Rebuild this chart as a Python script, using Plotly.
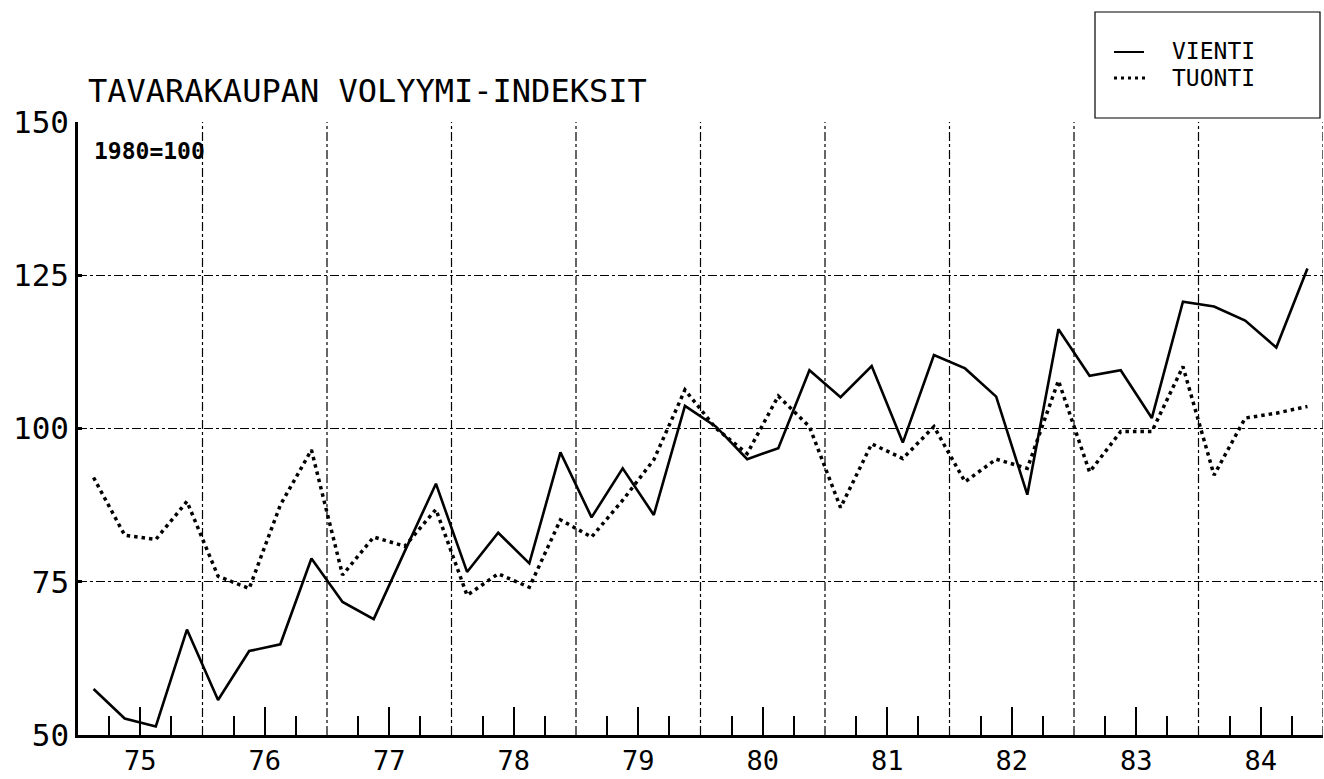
import plotly.graph_objects as go

years = list(range(1975, 1985))
year_labels = ['75', '76', '77', '78', '79', '80', '81', '82', '83', '84']
quarters = [1, 2, 3, 4]

vienti = [57.5, 52.7, 51.4, 67.2, 55.7, 63.7, 64.8, 78.8, 71.7, 68.9,
          80.0, 91.0, 76.6, 83.0, 78.0, 96.1, 85.5, 93.5, 85.9, 103.7,
          100.3, 95.0, 96.8, 109.5, 105.1, 110.2, 97.7, 112.0, 109.8, 105.2,
          89.2, 116.2, 108.6, 109.5, 101.7, 120.7, 119.9, 117.6, 113.2, 126.1]
tuonti = [92.0, 82.6, 81.9, 88.1, 75.9, 73.9, 87.5, 96.5, 76.1, 82.3,
          80.8, 86.8, 72.8, 76.3, 74.1, 85.1, 82.3, 88.3, 94.9, 106.3,
          100.0, 95.9, 105.3, 100.3, 87.1, 97.5, 95.1, 100.3, 91.3, 95.0,
          93.5, 107.8, 92.9, 99.5, 99.5, 110.1, 92.4, 101.7, 102.5, 103.6]

# quarter midpoints on a year axis
x_q = [y + (q - 0.5) / 4 for y in years for q in quarters]

font = 'DejaVu Sans Mono'
W, H = 1324, 779
L, R, T, B = 78, 1, 122, 44


def px(x):
    return (x - L) / (W - L - R)


def py(y):
    return (H - B - y) / (H - T - B)


fig = go.Figure()
fig.add_trace(go.Scatter(
    x=x_q, y=tuonti, mode='lines', name='TUONTI',
    line=dict(color='black', width=3.5, dash='3.5px,4px')
))
fig.add_trace(go.Scatter(
    x=x_q, y=vienti, mode='lines', name='VIENTI',
    line=dict(color='black', width=2.6)
))

# vertical grid at year boundaries + right frame
for y in years[1:] + [1985]:
    fig.add_shape(type='line', xref='x', yref='paper', x0=y, x1=y, y0=0, y1=1,
                  line=dict(color='black', width=1.2, dash='dashdot'))

# legend box
fig.add_shape(type='rect', xref='paper', yref='paper',
              x0=px(1095), x1=px(1320), y0=py(118), y1=py(12),
              line=dict(color='black', width=1.2))
fig.add_shape(type='line', xref='paper', yref='paper',
              x0=px(1114), x1=px(1144), y0=py(52), y1=py(52),
              line=dict(color='black', width=2))
fig.add_shape(type='line', xref='paper', yref='paper',
              x0=px(1114), x1=px(1146), y0=py(78), y1=py(78),
              line=dict(color='black', width=3, dash='3px,4px'))
fig.add_annotation(xref='paper', yref='paper', x=px(1170), y=py(51),
                   text='VIENTI', showarrow=False, xanchor='left', yanchor='middle',
                   font=dict(family=font, size=23, color='black'))
fig.add_annotation(xref='paper', yref='paper', x=px(1170), y=py(78),
                   text='TUONTI', showarrow=False, xanchor='left', yanchor='middle',
                   font=dict(family=font, size=23, color='black'))

fig.add_annotation(xref='paper', yref='paper', x=px(92), y=py(151),
                   text='<b>1980=100</b>', showarrow=False, xanchor='left', yanchor='middle',
                   font=dict(family=font, size=23, color='black'))

fig.update_layout(
    width=W, height=H,
    margin=dict(l=L, r=R, t=T, b=B, autoexpand=False),
    plot_bgcolor='white', paper_bgcolor='white',
    showlegend=False,
    title=dict(text='TAVARAKAUPAN VOLYYMI-INDEKSIT', x=88 / W, xanchor='left',
               y=1 - 91 / H, yanchor='middle',
               font=dict(family=font, size=32, color='black')),
    xaxis=dict(
        range=[1975, 1985], automargin=False,
        tickvals=[y + 0.5 for y in years], ticktext=year_labels,
        ticks='inside', ticklen=28, tickwidth=2, tickcolor='black',
        minor=dict(tickvals=[y + f for y in years for f in (0.25, 0.75)],
                   ticks='inside', ticklen=19, tickwidth=2, tickcolor='black'),
        showgrid=False, zeroline=False,
        showline=True, linecolor='black', linewidth=3,
        tickfont=dict(family=font, size=27, color='black'),
    ),
    yaxis=dict(
        range=[50, 150], automargin=False,
        tickvals=[50, 75, 100, 125, 150],
        ticks='inside', ticklen=4, tickwidth=3, tickcolor='black',
        showgrid=True, gridcolor='black', gridwidth=1.2, griddash='dashdot',
        zeroline=False,
        showline=True, linecolor='black', linewidth=2.5,
        tickfont=dict(family=font, size=31, color='black'),
    ),
)

# drop the page's default body margin so the figure sits at the window origin
fig.write_html('out.html', config={'displayModeBar': False},
               post_script="document.body.style.margin='0';document.body.style.overflow='hidden';")
